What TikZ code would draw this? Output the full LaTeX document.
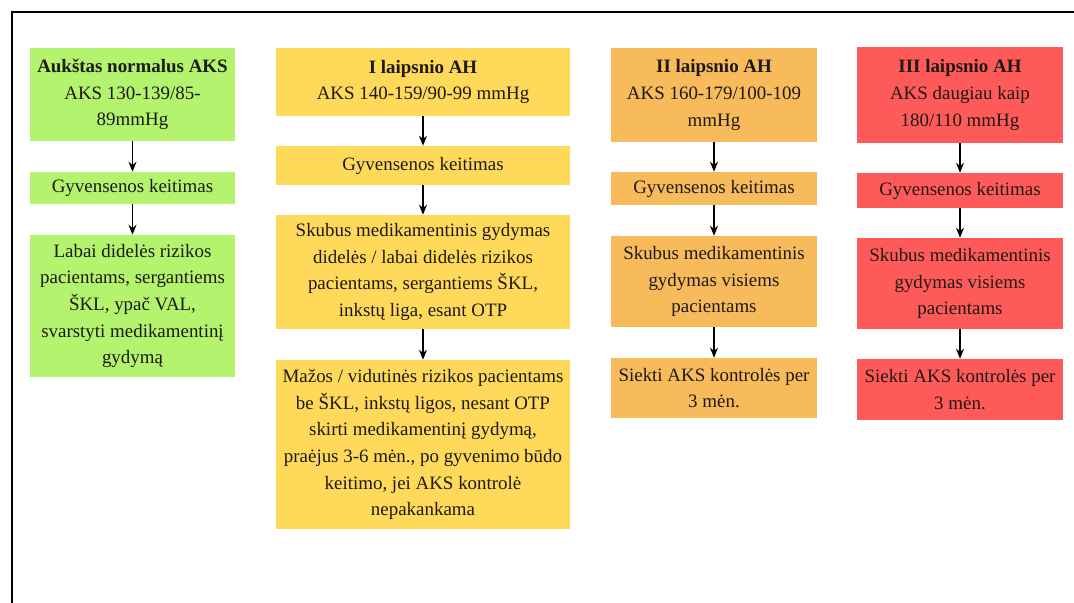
\documentclass[tikz,border=0pt]{standalone}
\usepackage{fontspec}
\setmainfont{Liberation Serif}
\usetikzlibrary{arrows.meta}

\definecolor{greenbox}{RGB}{179,243,110}
\definecolor{yellowbox}{RGB}{255,217,90}
\definecolor{orangebox}{RGB}{248,187,92}
\definecolor{redbox}{RGB}{255,90,90}
\definecolor{textdark}{RGB}{30,25,20}

\begin{document}
\begin{tikzpicture}[x=0.75pt,y=0.75pt,yscale=-1,xscale=1,
  box/.style={inner sep=0pt, align=center, text=textdark, font=\fontsize{14.2}{20}\selectfont},
  arr/.style={-{Stealth[length=7.5pt,width=6pt]}, line width=1.1pt}]
\useasboundingbox (0,0) rectangle (1074,603);

%Frame
\draw [line width=1.5pt] (11.5,603) -- (11.5,11.5) -- (1074,11.5) ;

%Column 1
\node (g1) [box, fill=greenbox, minimum width=153.75pt, minimum height=69.75pt] at (132.5,94.5) {\textbf{Aukštas normalus AKS}\\AKS 130-139/85-\\89mmHg};
\node (g2) [box, fill=greenbox, minimum width=153.75pt, minimum height=24pt] at (132.5,188) {Gyvensenos keitimas};
\node (g3) [box, fill=greenbox, minimum width=153.75pt, minimum height=106.5pt] at (132.5,306) {Labai didelės rizikos\\pacientams, sergantiems\\ŠKL, ypač VAL,\\svarstyti medikamentinį\\gydymą};

%Column 2
\node (y1) [box, fill=yellowbox, minimum width=220.5pt, minimum height=51pt] at (423,82) {\textbf{I laipsnio AH}\\AKS 140-159/90-99 mmHg};
\node (y2) [box, fill=yellowbox, minimum width=220.5pt, minimum height=29.25pt] at (423,165.5) {Gyvensenos keitimas};
\node (y3) [box, fill=yellowbox, minimum width=220.5pt, minimum height=85.5pt] at (423,272) {Skubus medikamentinis gydymas\\didelės / labai didelės rizikos\\pacientams, sergantiems ŠKL,\\inkstų liga, esant OTP};
\node (y4) [box, fill=yellowbox, minimum width=220.5pt, minimum height=126.75pt] at (423,444.5) {Mažos / vidutinės rizikos pacientams\\be ŠKL, inkstų ligos, nesant OTP\\skirti medikamentinį gydymą,\\praėjus 3-6 mėn., po gyvenimo būdo\\keitimo, jei AKS kontrolė\\nepakankama};

%Column 3
\node (o1) [box, fill=orangebox, minimum width=154.5pt, minimum height=70.5pt] at (714,95) {\textbf{II laipsnio AH}\\AKS 160-179/100-109\\mmHg};
\node (o2) [box, fill=orangebox, minimum width=154.5pt, minimum height=24.75pt] at (714,188.5) {Gyvensenos keitimas};
\node (o3) [box, fill=orangebox, minimum width=154.5pt, minimum height=68.25pt] at (714,281.5) {Skubus medikamentinis\\gydymas visiems\\pacientams};
\node (o4) [box, fill=orangebox, minimum width=154.5pt, minimum height=45pt] at (714,388) {Siekti AKS kontrolės per\\3 mėn.};

%Column 4
\node (r1) [box, fill=redbox, minimum width=154.5pt, minimum height=72pt] at (960,95) {\textbf{III laipsnio AH}\\AKS daugiau kaip\\180/110 mmHg};
\node (r2) [box, fill=redbox, minimum width=154.5pt, minimum height=26.25pt] at (960,190.5) {Gyvensenos keitimas};
\node (r3) [box, fill=redbox, minimum width=154.5pt, minimum height=68.25pt] at (960,283.5) {Skubus medikamentinis\\gydymas visiems\\pacientams};
\node (r4) [box, fill=redbox, minimum width=154.5pt, minimum height=45.75pt] at (960,389.5) {Siekti AKS kontrolės per\\3 mėn.};

%Arrows
\draw [arr] (g1) -- (g2) ;
\draw [arr] (g2) -- (g3) ;
\draw [arr] (y1) -- (y2) ;
\draw [arr] (y2) -- (y3) ;
\draw [arr] (y3) -- (y4) ;
\draw [arr] (o1) -- (o2) ;
\draw [arr] (o2) -- (o3) ;
\draw [arr] (o3) -- (o4) ;
\draw [arr] (r1) -- (r2) ;
\draw [arr] (r2) -- (r3) ;
\draw [arr] (r3) -- (r4) ;

\end{tikzpicture}
\end{document}
